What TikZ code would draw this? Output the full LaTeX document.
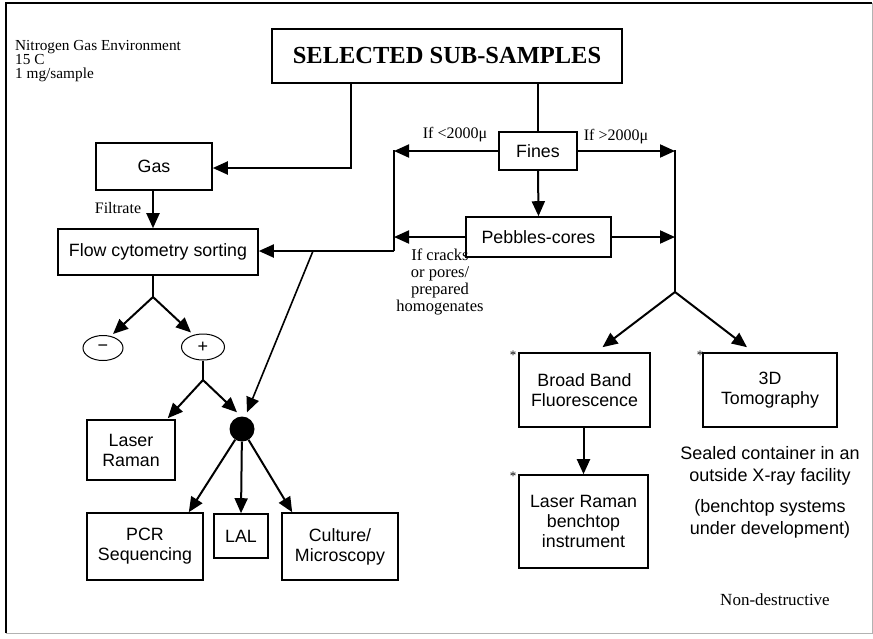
\documentclass[tikz,border=0pt]{standalone}
\usepackage{fontspec}
\setmainfont{Liberation Serif}
\setsansfont{Liberation Sans}
\usetikzlibrary{arrows.meta,calc,shapes.geometric}
\begin{document}
\begin{tikzpicture}[x=1pt,y=-1pt,
  box/.style={draw,line width=1.6pt,font=\sffamily\fontsize{17.8}{20}\selectfont,align=center,inner sep=0pt},
  arr/.style={line width=2pt,-{Triangle[length=15pt,width=13pt]}},
  ln/.style={line width=2pt},
  lab/.style={font=\fontsize{16}{16.5}\selectfont,align=center,inner sep=0pt},
  note/.style={font=\sffamily\fontsize{18}{22}\selectfont,align=center,inner sep=0pt},
  star/.style={font=\fontsize{13}{13}\selectfont,inner sep=0pt},
  sign/.style={ellipse,draw,line width=1pt,minimum width=40pt,minimum height=25pt,inner sep=0pt,font=\sffamily\fontsize{18}{18}\selectfont}]
\useasboundingbox (0,0) rectangle (873,638);
\fill[white] (0,0) rectangle (873,638);
\draw[line width=1.5pt] (6,633) -- (6,3) -- (872,3);
\draw[line width=1pt,black!30] (872,3) -- (872,633) -- (6,633);

% boxes
\node[box,minimum width=350pt,minimum height=54pt,font=\bfseries\fontsize{24.5}{26}\selectfont] (sss) at (447,56) {SELECTED SUB-SAMPLES};
\node[box,minimum width=116pt,minimum height=47pt] (gas) at (154,166.5) {Gas};
\node[box,minimum width=200pt,minimum height=46pt] (flow) at (158,252) {Flow cytometry sorting};
\node[box,minimum width=78pt,minimum height=38pt] (fines) at (538,151) {Fines};
\node[box,minimum width=145pt,minimum height=40pt] (peb) at (538.5,237) {Pebbles-cores};
\node[box,minimum width=88pt,minimum height=60pt] (lr) at (131,450) {Laser\\Raman};
\node[box,minimum width=116pt,minimum height=67pt] (pcr) at (145,546.5) {PCR\\Sequencing};
\node[box,minimum width=54pt,minimum height=44pt] (lal) at (241,536) {LAL};
\node[box,minimum width=116pt,minimum height=67pt] (cult) at (340,546.5) {Culture/\\Microscopy};
\node[box,minimum width=131pt,minimum height=74pt] (bbf) at (584.5,390) {Broad Band\\Fluorescence};
\node[box,minimum width=134pt,minimum height=74pt] (tomo) at (770,390) {3D\\Tomography};
\node[box,minimum width=129pt,minimum height=93pt] (lrb) at (583.5,521.5) {Laser Raman\\benchtop\\instrument};
\node[sign] (minus) at (103,348) {−};
\node[sign,minimum width=43pt,minimum height=26pt] (plus) at (203,347) {+};
\node[circle,fill,minimum size=25pt,inner sep=0pt] (dot) at (242,429) {};

% asterisks
\node[star] (a1) at (513,355) {*};
\node[star] (a2) at (700,355) {*};
\node[star] (a3) at (513,476) {*};

% texts
\node[font=\fontsize{15.3}{14}\selectfont,align=left,anchor=west,inner sep=0pt] (env) at (15,61) {Nitrogen Gas Environment\\15 C\\1 mg/sample};
\node[lab] (lt) at (455,135) {If <2000μ};
\node[lab] (gt) at (616,137) {If >2000μ};
\node[lab] (filt) at (118,208) {Filtrate};
\node[lab,font=\fontsize{16.5}{16.7}\selectfont] (crk) at (440,282) {If cracks\\or pores/\\prepared\\homogenates};
\node[note] (seal) at (770,466) {Sealed container in an\\outside X-ray facility};
\node[note] (bench) at (770,519) {(benchtop systems\\under development)};
\node[font=\fontsize{17}{17}\selectfont,inner sep=0pt] (nd) at (775,600) {Non-destructive};

% connector points
\coordinate (c1) at (351,168);
\coordinate (lv1) at (394,151);
\coordinate (lv2) at (394,251);
\coordinate (dg) at (313,251);
\coordinate (rv1) at (675,151);
\coordinate (rv2) at (675,292);
\coordinate (s1) at (153,297);
\coordinate (s2) at (203,380);

% connectors
\draw[arr] (sss.south -| c1) -- (c1) -- (gas.east |- c1);
\draw[ln] (sss.south -| fines.north) -- (fines.north);
\draw[arr] (fines.west) -- (lv1);
\draw[ln] ($(lv1)+(0,-1)$) -- (lv2);
\draw[arr] (lv2) -- (flow.east |- lv2);
\draw[arr,line width=1.6pt] (dg) -- ($(dot.north)+(5,-4)$);
\draw[arr] (fines.east) -- (rv1);
\draw[ln] ($(rv1)+(0,-1)$) -- (rv2);
\draw[arr] (fines.south) -- (peb.north);
\draw[arr] (peb.west) -- (lv1 |- peb.west);
\draw[arr] (peb.east) -- (rv1 |- peb.east);
\draw[arr] (rv2) -- ($(bbf.north)+(18,-5)$);
\draw[arr] (rv2) -- ($(tomo.north)+(-23,-5)$);
\draw[arr] (bbf.south -| lrb.north) -- (lrb.north);
\draw[arr] (gas.south -| s1) -- (s1 |- flow.north);
\draw[ln] (s1 |- flow.south) -- (s1);
\draw[arr] (s1) -- ($(minus.north)+(10,-1)$);
\draw[arr] (s1) -- ($(plus.north)+(-12,-1)$);
\draw[ln,line width=1.2pt] (plus.south) -- (s2);
\draw[arr] (s2) -- ($(lr.north east)+(-8,-1)$);
\draw[arr] (s2) -- ($(dot.north)+(-5,-4)$);
\draw[arr] (dot) -- ($(pcr.north east)+(-15,0)$);
\draw[arr] (dot) -- (lal.north);
\draw[arr] (dot) -- ($(cult.north west)+(11,0)$);
\end{tikzpicture}
\end{document}
